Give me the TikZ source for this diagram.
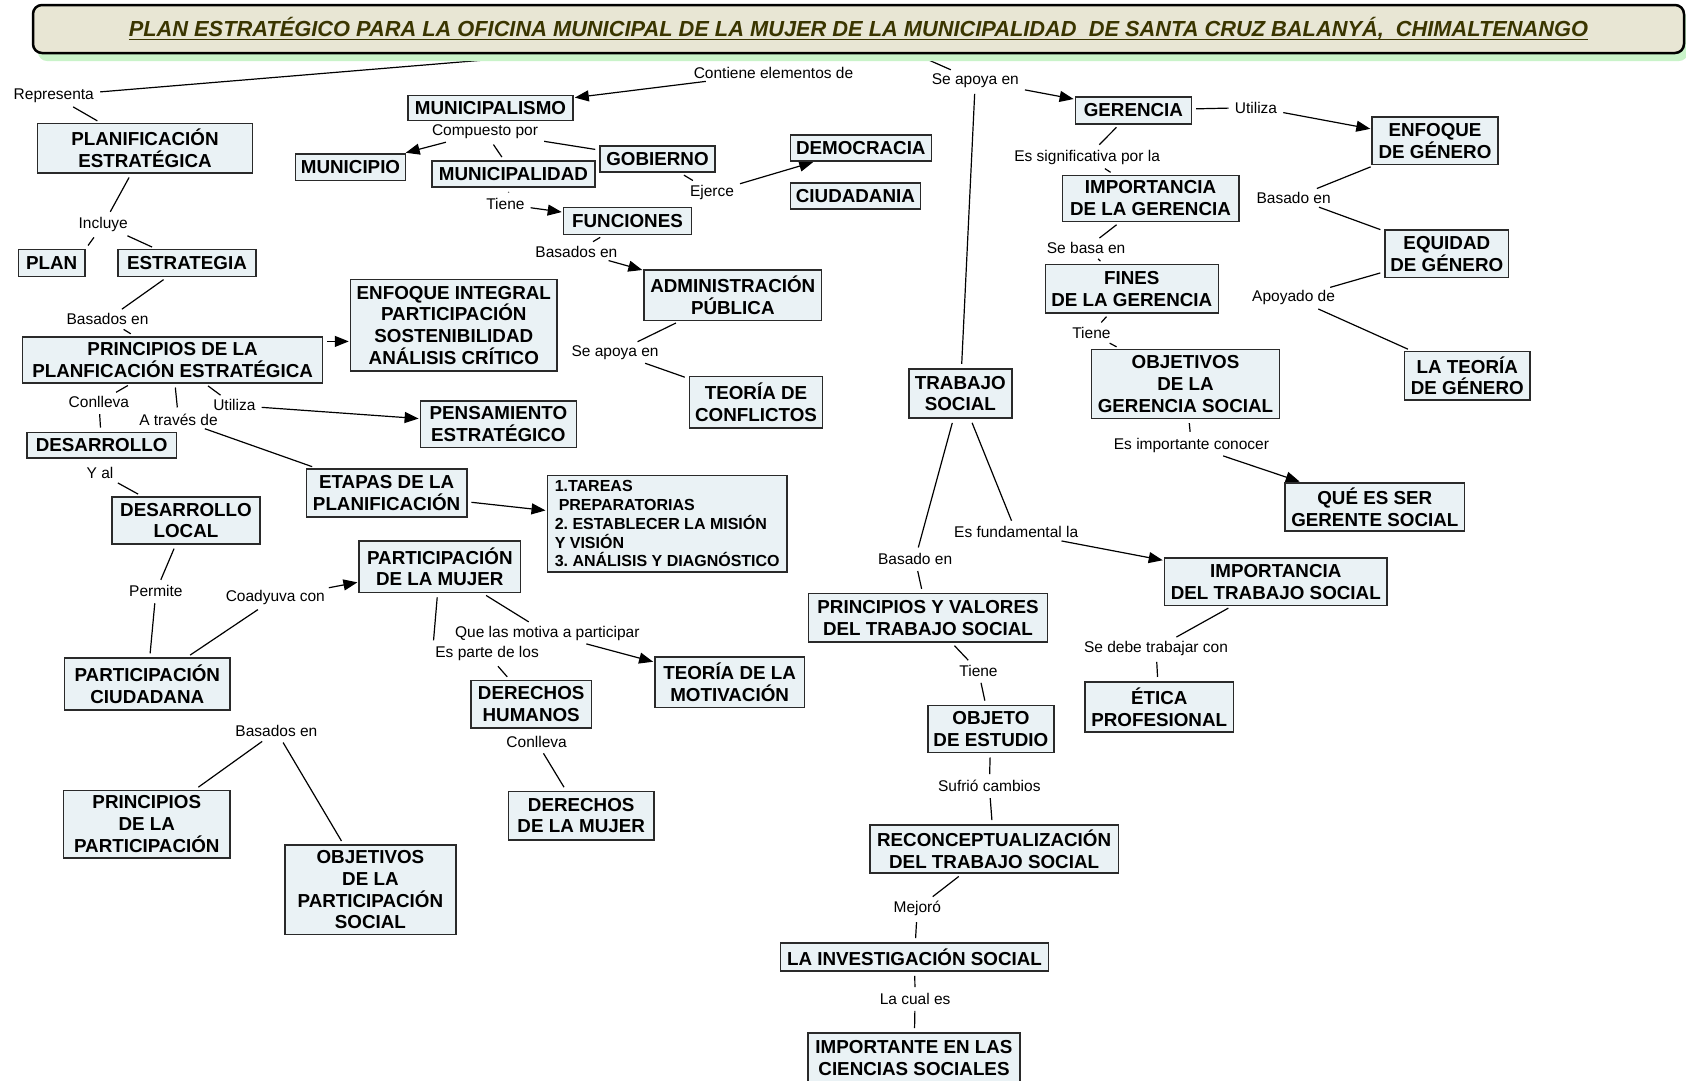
\documentclass[tikz,border=0pt]{standalone}
\usepackage{fontspec}
\setmainfont{Liberation Sans}
\usetikzlibrary{arrows.meta}
\definecolor{boxfill}{HTML}{EAF2F5}
\definecolor{boxline}{HTML}{2A2A2A}
\definecolor{titlefill}{HTML}{E8E6D4}
\definecolor{titletext}{HTML}{3A3500}
\definecolor{shadowgreen}{HTML}{C9F3C9}
\newcommand\cmboxfont{\fontsize{18.8}{21.8}\selectfont\bfseries}
\newcommand\cmlblfont{\fontsize{15.5}{17}\selectfont}
\newcommand\cmtarfont{\fontsize{16}{18.8}\selectfont\bfseries}
\newcommand\cmttlfont{\fontsize{21.8}{24}\selectfont\bfseries\itshape}
\newcommand\cmul[1]{\setbox0\hbox{#1}\rlap{\raisebox{-3.2pt}{\rule{\wd0}{1.6pt}}}\box0}
\pgfdeclarelayer{bg}
\pgfdeclarelayer{mid}
\pgfsetlayers{bg,mid,main}
\tikzset{
  cbox/.style={draw=boxline, fill=boxfill, line width=1.6pt, font=\cmboxfont, align=center, inner sep=0pt},
  lbl/.style={font=\cmlblfont, inner sep=2pt},
  ln/.style={draw=black, line width=1.2pt, shorten <=4pt, shorten >=4pt},
  arr/.style={ln, -{Triangle[length=14pt,width=11pt]}, shorten >=1pt},
}
\frenchspacing
\begin{document}
\begin{tikzpicture}[x=1pt,y=-1pt]
\useasboundingbox (0,0) rectangle (1686,1080);
% title
\node[draw=black, line width=2.5pt, fill=titlefill, rounded corners=9pt, minimum width=1651, minimum height=48, inner sep=0pt, text=titletext, font=\cmttlfont] (title) at (858.5,29) {\cmul{PLAN ESTRATÉGICO PARA LA OFICINA MUNICIPAL DE LA MUJER DE LA MUNICIPALIDAD\ \ DE SANTA CRUZ BALANYÁ,\ \ CHIMALTENANGO}};
% concept boxes
\node[cbox, minimum width=215, minimum height=49.5] (planest) at (145,148.4) {PLANIFICACIÓN\\ESTRATÉGICA};
\node[cbox, minimum width=66.6, minimum height=27] (plan) at (51.6,263) {PLAN};
\node[cbox, minimum width=137.6, minimum height=27] (estrat) at (187,263) {ESTRATEGIA};
\node[cbox, minimum width=300, minimum height=46] (princ) at (172.6,359.7) {PRINCIPIOS DE LA\\PLANFICACIÓN ESTRATÉGICA};
\node[cbox, minimum width=206.5, minimum height=91.4] (enfint) at (453.8,325.3) {ENFOQUE INTEGRAL\\PARTICIPACIÓN\\SOSTENIBILIDAD\\ANÁLISIS CRÍTICO};
\node[cbox, minimum width=149.4, minimum height=25.8] (desa) at (101.6,445.2) {DESARROLLO};
\node[cbox, minimum width=148.4, minimum height=47.3] (desloc) at (186,520.5) {DESARROLLO\\LOCAL};
\node[cbox, minimum width=156, minimum height=46.2] (pens) at (498.4,424.2) {PENSAMIENTO\\ESTRATÉGICO};
\node[cbox, minimum width=160.2, minimum height=48.4] (etapas) at (386.6,493) {ETAPAS DE LA\\PLANIFICACIÓN};
\node[cbox, font=\cmtarfont, align=left, minimum width=239.8, minimum height=96.8] (tareas) at (667.2,523.7) {1.TAREAS\\\hspace*{4pt}PREPARATORIAS\\2. ESTABLECER LA MISIÓN\\Y VISIÓN\\3. ANÁLISIS Y DIAGNÓSTICO};
\node[cbox, minimum width=161.2, minimum height=51.6] (partmuj) at (439.8,566.7) {PARTICIPACIÓN\\DE LA MUJER};
\node[cbox, minimum width=165.6, minimum height=51.6] (partciu) at (147.3,683.9) {PARTICIPACIÓN\\CIUDADANA};
\node[cbox, minimum width=166.7, minimum height=67.8] (princpart) at (146.8,824.2) {PRINCIPIOS\\DE LA\\PARTICIPACIÓN};
\node[cbox, minimum width=170.9, minimum height=89.2] (objpart) at (370.4,889.8) {OBJETIVOS\\DE LA\\PARTICIPACIÓN\\SOCIAL};
\node[cbox, minimum width=120.4, minimum height=47.3] (derhum) at (531.2,704.3) {DERECHOS\\HUMANOS};
\node[cbox, minimum width=149.4, minimum height=50.5] (teomot) at (729.6,682.2) {TEORÍA DE LA\\MOTIVACIÓN};
\node[cbox, minimum width=145.2, minimum height=48.4] (dermuj) at (581.2,815.6) {DERECHOS\\DE LA MUJER};
\node[cbox, minimum width=165, minimum height=25] (munism) at (490.5,108) {MUNICIPALISMO};
\node[cbox, minimum width=109.7, minimum height=26.8] (munpio) at (350.5,167.2) {MUNICIPIO};
\node[cbox, minimum width=163, minimum height=26] (munidad) at (513.4,174.2) {MUNICIPALIDAD};
\node[cbox, minimum width=115, minimum height=26] (gob) at (657.5,159.2) {GOBIERNO};
\node[cbox, minimum width=141, minimum height=26] (democ) at (860.8,148) {DEMOCRACIA};
\node[cbox, minimum width=130, minimum height=26] (ciud) at (855.4,195.7) {CIUDADANIA};
\node[cbox, minimum width=128, minimum height=27] (func) at (627.5,221) {FUNCIONES};
\node[cbox, minimum width=177.4, minimum height=50.5] (admin) at (732.8,295.2) {ADMINISTRACIÓN\\PÚBLICA};
\node[cbox, minimum width=133.3, minimum height=51.6] (teocon) at (756,402.2) {TEORÍA DE\\CONFLICTOS};
\node[cbox, minimum width=103.2, minimum height=49.5] (trab) at (960.3,393.5) {TRABAJO\\SOCIAL};
\node[cbox, minimum width=116, minimum height=27] (ger) at (1133.4,110.2) {GERENCIA};
\node[cbox, minimum width=176.4, minimum height=46.2] (impger) at (1150.5,198.4) {IMPORTANCIA\\DE LA GERENCIA};
\node[cbox, minimum width=173, minimum height=48.4] (fines) at (1131.8,288.7) {FINES\\DE LA GERENCIA};
\node[cbox, minimum width=188.2, minimum height=68.8] (objger) at (1185.5,383.9) {OBJETIVOS\\DE LA\\GERENCIA SOCIAL};
\node[cbox, minimum width=125.8, minimum height=47.3] (enfgen) at (1435,140.9) {ENFOQUE\\DE GÉNERO};
\node[cbox, minimum width=123.7, minimum height=47.3] (equid) at (1446.8,253.8) {EQUIDAD\\DE GÉNERO};
\node[cbox, minimum width=125.8, minimum height=48.4] (teogen) at (1467.3,375.8) {LA TEORÍA\\DE GÉNERO};
\node[cbox, minimum width=179.6, minimum height=48.4] (quees) at (1374.8,507) {QUÉ ES SER\\GERENTE SOCIAL};
\node[cbox, minimum width=222.6, minimum height=47.3] (impts) at (1275.8,581.7) {IMPORTANCIA\\DEL TRABAJO SOCIAL};
\node[cbox, minimum width=238.7, minimum height=48.4] (princval) at (928,617.8) {PRINCIPIOS Y VALORES\\DEL TRABAJO SOCIAL};
\node[cbox, minimum width=148.4, minimum height=50.5] (etica) at (1159.2,707) {ÉTICA\\PROFESIONAL};
\node[cbox, minimum width=125.8, minimum height=47.3] (objeto) at (990.9,729) {OBJETO\\DE ESTUDIO};
\node[cbox, minimum width=248.4, minimum height=48.4] (recon) at (994.1,849) {RECONCEPTUALIZACIÓN\\DEL TRABAJO SOCIAL};
\node[cbox, minimum width=267.7, minimum height=28] (invest) at (914.5,957) {LA INVESTIGACIÓN SOCIAL};
\node[cbox, minimum width=212, minimum height=50] (impcs) at (914,1058) {IMPORTANTE EN LAS\\CIENCIAS SOCIALES};
% linking phrases
\node[lbl] (repr) at (53.8,95.7) {Representa};
\node[lbl] (conti) at (773.5,73) {Contiene elementos de};
\node[lbl] (apoya1) at (975.3,80.6) {Se apoya en};
\node[lbl] (incl) at (103.2,224.7) {Incluye};
\node[lbl] (basados1) at (107.5,319.4) {Basados en};
\node[lbl] (conlleva1) at (98.9,402.2) {Conlleva};
\node[lbl] (atraves) at (178.5,419.4) {A través de};
\node[lbl] (utiliza1) at (234.4,405.4) {Utiliza};
\node[lbl] (yal) at (100,473.1) {Y al};
\node[lbl] (permite) at (155.9,591.4) {Permite};
\node[lbl] (coadyuva) at (275.3,597.9) {Coadyuva con};
\node[lbl] (basados2) at (276.4,731.2) {Basados en};
\node[lbl] (motiva) at (547.3,633.4) {Que las motiva a participar};
\node[lbl] (esparte) at (487.1,653.8) {Es parte de los};
\node[lbl] (conlleva2) at (536.6,742) {Conlleva};
\node[lbl] (compuesto) at (485,132) {Compuesto por};
\node[lbl] (tiene1) at (505.4,204.3) {Tiene};
\node[lbl] (ejerce) at (712,192) {Ejerce};
\node[lbl] (basados3) at (576.4,251.6) {Basados en};
\node[lbl] (apoya2) at (615.1,352.7) {Se apoya en};
\node[lbl] (utiliza2) at (1256,107.5) {Utiliza};
\node[lbl] (essignif) at (1087.1,157) {Es significativa por la};
\node[lbl] (basado1) at (1293.6,197.9) {Basado en};
\node[lbl] (sebasa) at (1086.1,248.4) {Se basa en};
\node[lbl] (apoyado) at (1293.6,297.9) {Apoyado de};
\node[lbl] (tiene2) at (1091.4,333.3) {Tiene};
\node[lbl] (esimport) at (1191.4,445.2) {Es importante conocer};
\node[lbl] (esfund) at (1016.2,532.3) {Es fundamental la};
\node[lbl] (basado2) at (915.1,559.2) {Basado en};
\node[lbl] (sedebe) at (1156,648.4) {Se debe trabajar con};
\node[lbl] (tiene3) at (978.5,671) {Tiene};
\node[lbl] (sufrio) at (989.3,786.1) {Sufrió cambios};
\node[lbl] (mejoro) at (917.3,908.6) {Mejoró};
\node[lbl] (lacual) at (915.1,999) {La cual es};
% title shadow
\begin{pgfonlayer}{mid}
\fill[shadowgreen, rounded corners=9pt] (38,12) rectangle (1688,61);
\end{pgfonlayer}
% connectors
\begin{pgfonlayer}{bg}
\draw[ln] (title) -- (repr);
\draw[ln] (repr) -- (planest);
\draw[arr] (conti) -- (munism);
\draw[ln] (title) -- (apoya1);
\draw[arr] (apoya1) -- (ger);
\draw[ln] (apoya1) -- (trab);
\draw[ln] (planest) -- (incl);
\draw[ln] (incl) -- (plan.north east);
\draw[ln] (incl) -- (estrat);
\draw[ln] (estrat) -- (basados1);
\draw[ln] (basados1) -- (princ);
\draw[arr] ([yshift=-5.5pt]princ.north east) -- ([yshift=-5.5pt]princ.north east -| enfint.west);
\draw[ln] (princ) -- (conlleva1);
\draw[ln] (conlleva1) -- (desa);
\draw[ln] (princ) -- (atraves);
\draw[ln] (atraves) -- (etapas);
\draw[ln] (princ) -- (utiliza1);
\draw[arr] (utiliza1) -- (pens);
\draw[ln] (yal) -- (desloc);
\draw[ln] (desloc) -- (permite);
\draw[ln] (permite) -- (partciu);
\draw[ln] (partciu) -- (coadyuva);
\draw[arr] (coadyuva) -- (partmuj);
\draw[arr] (etapas) -- (tareas);
\draw[ln] (partmuj) -- (esparte.north west);
\draw[ln] (esparte) -- (derhum);
\draw[ln] (partmuj) -- (motiva);
\draw[arr] (motiva) -- (teomot);
\draw[ln] (conlleva2) -- (dermuj);
\draw[ln] (basados2) -- (princpart);
\draw[ln] (basados2) -- (objpart);
\draw[arr] (compuesto) -- (munpio);
\draw[ln] (compuesto) -- (munidad);
\draw[ln] (compuesto) -- (gob);
\draw[ln] (munidad) -- (tiene1);
\draw[arr] (tiene1) -- (func);
\draw[ln] (gob) -- (ejerce);
\draw[arr] (ejerce) -- (democ);
\draw[ln] (func) -- (basados3);
\draw[arr] (basados3) -- (admin);
\draw[ln] (admin) -- (apoya2);
\draw[ln] (apoya2) -- (teocon);
\draw[ln] (ger) -- (utiliza2);
\draw[arr] (utiliza2) -- (enfgen);
\draw[ln] (ger) -- (essignif);
\draw[ln] (essignif) -- (impger);
\draw[ln] (impger) -- (sebasa);
\draw[ln] (sebasa) -- (fines);
\draw[ln] (fines) -- (tiene2);
\draw[ln] (tiene2) -- (objger);
\draw[ln] (objger) -- (esimport);
\draw[arr] (esimport) -- (quees);
\draw[ln] (enfgen) -- (basado1);
\draw[ln] (basado1) -- (equid);
\draw[ln] (equid) -- (apoyado);
\draw[ln] (apoyado) -- (teogen);
\draw[ln] (trab) -- (basado2);
\draw[ln] (basado2) -- (princval);
\draw[ln] (trab) -- (esfund);
\draw[arr] (esfund) -- (impts);
\draw[ln] (impts) -- (sedebe);
\draw[ln] (sedebe) -- (etica);
\draw[ln] (princval) -- (tiene3);
\draw[ln] (tiene3) -- (objeto);
\draw[ln] (objeto) -- (sufrio);
\draw[ln] (sufrio) -- (recon);
\draw[ln] (recon) -- (mejoro);
\draw[ln] (mejoro) -- (invest);
\draw[ln] (invest) -- (lacual);
\draw[ln] (lacual) -- (impcs);
\end{pgfonlayer}
\end{tikzpicture}
\end{document}
